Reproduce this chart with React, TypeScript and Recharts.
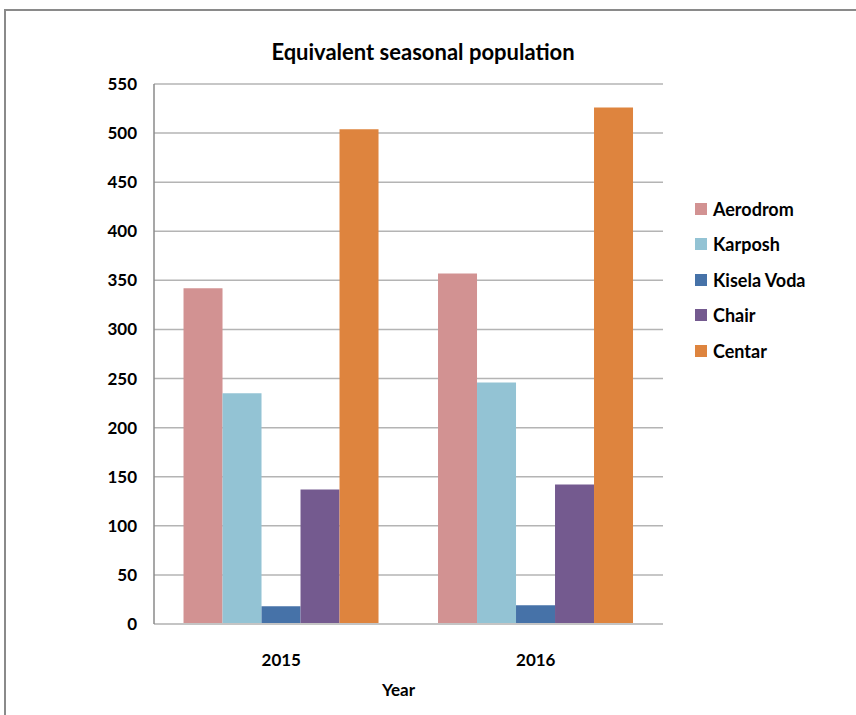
import { BarChart, Bar, XAxis, YAxis, CartesianGrid, Label } from "recharts";

const years = ["2015", "2016"];
const aerodrom = [342, 357];
const karposh = [235, 246];
const kiselaVoda = [18, 19];
const chair = [137, 142];
const centar = [504, 526];
const yTicks = [0, 50, 100, 150, 200, 250, 300, 350, 400, 450, 500, 550];

const series = [
  { key: "Aerodrom", values: aerodrom, color: "#D29292" },
  { key: "Karposh", values: karposh, color: "#93C3D4" },
  { key: "Kisela Voda", values: kiselaVoda, color: "#4672A8" },
  { key: "Chair", values: chair, color: "#745A8F" },
  { key: "Centar", values: centar, color: "#DE843E" },
];

const data = years.map((year, i) => {
  const row: Record<string, string | number> = { year };
  series.forEach((s) => {
    row[s.key] = s.values[i];
  });
  return row;
});

const font = "Lato, 'Open Sans', sans-serif";
const tickStyle = { fill: "#000", fontSize: 17, fontWeight: 700, fontFamily: font };

function LegendList() {
  return (
    <div
      style={{
        position: "absolute",
        left: 695,
        top: 191,
        fontFamily: font,
        fontWeight: 700,
        fontSize: 18,
        color: "#000",
      }}
    >
      {series.map((s) => (
        <div key={s.key} style={{ display: "flex", alignItems: "center", height: 35.5 }}>
          <span
            style={{
              width: 12,
              height: 12,
              background: s.color,
              display: "inline-block",
              marginRight: 6,
            }}
          />
          {s.key}
        </div>
      ))}
    </div>
  );
}

export default function App() {
  return (
    <div
      style={{
        position: "absolute",
        left: 0,
        top: 0,
        width: 856,
        height: 715,
        overflow: "hidden",
        background: "#fff",
      }}
    >
      <div
        style={{
          position: "absolute",
          left: 4,
          top: 9,
          width: 870,
          height: 730,
          border: "2px solid #8a8a8a",
          boxSizing: "border-box",
        }}
      />
      <div
        style={{
          position: "absolute",
          left: 0,
          width: 846,
          top: 37,
          textAlign: "center",
          fontFamily: font,
          fontWeight: 700,
          fontSize: 22,
          lineHeight: "30px",
          color: "#000",
        }}
      >
        Equivalent seasonal population
      </div>
      <div style={{ position: "absolute", left: 0, top: 0 }}>
        <BarChart
          width={856}
          height={715}
          data={data}
          margin={{ top: 84, right: 193, bottom: 61, left: 0 }}
          barCategoryGap="11.6%"
          barGap={0}
        >
          <CartesianGrid vertical={false} stroke="#b4b4b4" strokeWidth={1.5} />
          <XAxis
            dataKey="year"
            height={30}
            tickLine={false}
            tickSize={0}
            tickMargin={30}
            axisLine={{ stroke: "#c4c4c4", strokeWidth: 2 }}
            tick={tickStyle}
          >
            <Label value="Year" position="bottom" offset={30} dx={-10} style={tickStyle} />
          </XAxis>
          <YAxis
            width={154}
            domain={[0, 550]}
            ticks={yTicks}
            interval={0}
            tickLine={false}
            tickSize={0}
            tickMargin={17}
            axisLine={{ stroke: "#8a8a8a", strokeWidth: 1.5 }}
            tick={tickStyle}
          />
          {series.map((s) => (
            <Bar key={s.key} dataKey={s.key} fill={s.color} isAnimationActive={false} />
          ))}
        </BarChart>
      </div>
      <LegendList />
    </div>
  );
}
